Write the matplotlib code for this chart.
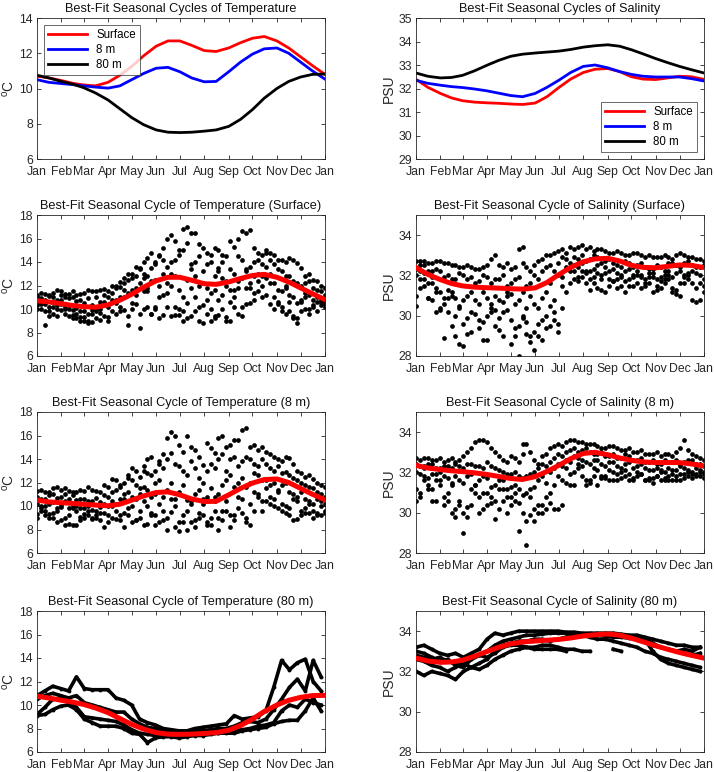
import numpy as np
import matplotlib
matplotlib.use("Agg")
import matplotlib.pyplot as plt

plt.rcParams['font.family'] = ['Liberation Sans', 'DejaVu Sans']
plt.rcParams['mathtext.fontset'] = 'custom'
plt.rcParams['mathtext.rm'] = 'Liberation Sans'

# month ticks (day of year)
MONTH_DAYS = [0, 31, 59, 90, 120, 151, 181, 212, 243, 273, 304, 334, 365]
MONTH_LABELS = ['Jan', 'Feb', 'Mar', 'Apr', 'May', 'Jun', 'Jul',
                'Aug', 'Sep', 'Oct', 'Nov', 'Dec', 'Jan']

# best-fit seasonal cycles, read semi-monthly
fit_days = [0, 15, 31, 45, 59, 74, 90, 105, 120, 135, 151, 166, 181,
            196, 212, 227, 243, 258, 273, 288, 304, 319, 334, 349, 365]
fit_t_surf = [10.7, 10.6, 10.45, 10.3, 10.2, 10.15, 10.35, 10.75, 11.25, 11.85, 12.4, 12.7, 12.7,
              12.45, 12.15, 12.1, 12.3, 12.6, 12.85, 12.95, 12.7, 12.3, 11.8, 11.3, 10.8]
fit_t_8m = [10.5, 10.35, 10.28, 10.22, 10.15, 10.08, 10.02, 10.15, 10.5, 10.85, 11.15, 11.2, 10.95,
            10.6, 10.38, 10.4, 10.95, 11.5, 11.95, 12.25, 12.3, 12.0, 11.5, 11.0, 10.53]
fit_t_80m = [10.75, 10.6, 10.4, 10.25, 10.05, 9.75, 9.35, 8.85, 8.35, 7.95, 7.65, 7.52, 7.5,
             7.52, 7.58, 7.65, 7.85, 8.25, 8.8, 9.45, 10.0, 10.4, 10.65, 10.8, 10.82]
fit_s_surf = [32.39, 32.05, 31.79, 31.6, 31.48, 31.42, 31.39, 31.37, 31.34, 31.32, 31.38, 31.65, 32.04,
              32.4, 32.68, 32.82, 32.85, 32.72, 32.5, 32.4, 32.38, 32.45, 32.52, 32.5, 32.39]
fit_s_8m = [32.35, 32.22, 32.14, 32.08, 32.04, 31.98, 31.9, 31.8, 31.7, 31.65, 31.79, 32.05, 32.35,
            32.68, 32.94, 33.0, 32.88, 32.72, 32.6, 32.52, 32.49, 32.49, 32.49, 32.42, 32.32]
fit_s_80m = [32.66, 32.52, 32.45, 32.47, 32.56, 32.75, 32.99, 33.2, 33.37, 33.46, 33.51, 33.55, 33.59,
             33.66, 33.76, 33.82, 33.86, 33.8, 33.65, 33.47, 33.27, 33.1, 32.94, 32.8, 32.66]

# observations, one trace per record, sampled every 10 days
obs_days = list(range(0, 361, 10))      # day 0..360
obs_days_mid = list(range(5, 366, 10))  # day 5..365
nan = np.nan

obs_t_surf = [
    [11.2, 11.3, 11.0, 11.5, 11.3, 11.2, 11.4, 11.5, 11.6, 11.5, 12.0, 12.6, 13.0, 13.4, 14.3, 14.0, 15.2, 16.3, 15.0,
     17.0, 16.5, 15.2, 14.0, 15.0, 14.5, 15.3, 16.6, 16.7, 14.8, 15.0, 14.6, 14.2, 14.3, 13.9, 12.8, 12.5, 12.0],
    [11.0, 10.8, 11.4, 11.2, 10.9, 10.7, 10.5, 10.3, 10.6, 11.0, 11.8, 12.2, 12.6, 13.5, 12.8, 13.8, 14.2, 13.0, 14.6,
     15.6, 14.0, 13.2, 14.6, 13.5, 12.4, 13.0, 14.2, 13.6, 14.2, 14.8, 13.8, 13.2, 12.8, 12.2, 12.2, 11.8, 11.5],
    [10.6, 10.4, 10.2, 10.4, 10.0, 10.1, 9.8, 9.9, 9.7, 10.2, 10.5, 11.0, 11.6, 12.2, 11.5, 12.5, 13.0, 12.0, 11.6,
     12.5, 11.0, 12.2, 11.4, 10.8, 12.0, 11.6, 12.6, 12.2, 13.0, 12.6, 12.2, 11.5, 11.2, 10.5, 11.0, 10.8, 10.6],
    [10.3, 9.8, 9.6, 9.9, 9.4, 9.2, 9.0, 8.9, 9.1, 9.3, 9.6, 9.9, 10.0, 9.6, 10.2, 10.0, 9.5, 9.4, 10.0,
     9.2, 9.8, 10.3, 9.0, 9.5, 9.3, 10.2, 9.4, 10.5, 11.5, 11.2, 10.0, 10.2, 9.8, 9.2, 10.0, 10.2, 10.3],
    [10.0, 8.6, 10.6, 10.8, 10.3, 9.6, 9.3, 9.6, 10.0, 9.0, 10.8, 11.6, 10.5, 8.4, 11.8, 10.2, 11.2, 14.0, 9.5,
     10.5, 12.8, 8.8, 10.0, 13.2, 9.0, 11.0, 10.2, 11.8, 12.4, 13.6, 11.0, 9.8, 10.6, 8.8, 11.4, 10.3, 10.8],
]
obs_t_surf_mid = [
    [11.4, 11.2, 11.6, 11.3, 11.5, 11.3, 11.6, 11.5, 11.7, 12.0, 12.3, 13.0, 13.6, 14.0, 14.8, 14.5, 16.0, 15.8, 16.8,
     16.5, 15.5, 14.8, 15.2, 14.6, 15.8, 16.0, 16.5, 15.2, 14.6, 14.8, 14.2, 14.0, 14.2, 13.5, 13.0, 12.4, 11.8],
    [10.9, 11.1, 10.8, 11.0, 11.0, 10.8, 10.9, 11.0, 11.2, 11.4, 11.9, 12.5, 12.8, 13.0, 13.5, 14.6, 13.6, 14.2, 15.0,
     13.8, 14.5, 13.8, 12.8, 14.0, 13.4, 14.5, 13.2, 14.0, 13.8, 14.2, 13.4, 12.8, 12.4, 12.0, 12.4, 11.6, 11.2],
    [10.4, 10.2, 10.0, 10.2, 9.9, 9.8, 9.6, 10.0, 10.3, 10.6, 11.0, 11.4, 11.8, 11.5, 12.4, 12.0, 11.4, 12.8, 11.0,
     11.8, 12.0, 10.8, 11.6, 11.2, 11.6, 12.4, 11.8, 12.8, 12.0, 13.0, 11.6, 11.8, 11.0, 10.8, 11.2, 10.6, 10.4],
    [10.0, 9.8, 9.4, 9.6, 9.2, 9.0, 9.0, 9.2, 9.4, 9.8, 10.2, 9.4, 10.4, 10.0, 9.6, 9.2, 10.2, 9.5, 9.8,
     9.4, 9.0, 9.6, 9.4, 10.0, 9.0, 9.6, 10.4, 10.8, 11.0, 10.4, 10.6, 9.6, 9.2, 9.8, 10.0, 9.8, 10.2],
    [10.6, 9.4, 10.3, 10.0, 9.5, 9.3, 8.8, 9.8, 10.6, 10.8, 9.8, 8.6, 11.2, 12.6, 9.6, 11.0, 12.2, 10.2, 9.0,
     13.4, 10.2, 11.8, 9.2, 12.6, 10.6, 11.8, 13.4, 11.4, 12.8, 12.2, 10.4, 12.0, 9.4, 10.6, 9.6, 11.0, 10.6],
]
obs_t_8m = [
    [11.3, 11.2, 11.5, 11.4, 11.3, 11.2, 11.3, 11.4, 11.2, 11.6, 12.2, 12.0, 13.2, 12.5, 14.0, 13.0, 14.4, 16.3, 15.2,
     16.0, 14.8, 13.5, 14.9, 15.8, 15.0, 15.6, 16.5, 15.0, 14.8, 14.6, 14.2, 13.8, 14.1, 13.0, 12.5, 12.3, 11.8],
    [10.8, 10.6, 11.0, 10.8, 10.6, 10.5, 10.6, 10.4, 10.3, 10.8, 11.4, 11.0, 12.2, 11.5, 12.8, 12.0, 13.2, 14.5, 13.4,
     12.6, 13.2, 12.0, 13.6, 14.0, 13.0, 14.2, 13.8, 14.0, 13.4, 13.6, 13.0, 12.8, 12.6, 12.2, 11.8, 11.5, 11.0],
    [10.2, 10.0, 10.3, 10.1, 9.8, 10.0, 9.8, 9.7, 9.9, 10.0, 10.2, 10.6, 10.8, 11.0, 11.4, 11.0, 10.8, 12.0, 11.2,
     10.5, 11.0, 10.2, 11.5, 11.0, 12.2, 11.6, 12.4, 12.0, 12.6, 12.2, 12.0, 11.8, 11.2, 10.8, 10.6, 10.2, 10.0],
    [9.3, 9.2, 9.0, 8.8, 8.5, 8.4, 9.0, 8.9, 8.8, 9.2, 8.9, 9.4, 8.6, 9.0, 8.5, 9.2, 8.8, 9.5, 8.6,
     8.0, 8.8, 9.2, 8.4, 9.0, 9.6, 8.8, 9.4, 10.2, 10.8, 10.4, 10.0, 9.6, 9.2, 8.9, 9.4, 9.6, 9.2],
    [9.0, 9.6, 9.4, 9.9, 9.2, 9.6, 9.3, 9.0, 9.4, 8.6, 9.6, 8.2, 10.0, 9.6, 10.0, 8.4, 9.6, 10.6, 7.9,
     9.6, 8.2, 10.6, 9.0, 8.0, 10.4, 9.2, 10.6, 8.4, 11.0, 11.5, 10.6, 10.2, 9.8, 10.4, 9.8, 9.0, 10.4],
]
obs_t_8m_mid = [
    [11.4, 11.2, 11.6, 11.5, 11.2, 11.4, 11.6, 11.3, 11.8, 12.3, 11.8, 12.6, 13.0, 13.4, 14.2, 13.6, 15.8, 16.0, 14.6,
     15.0, 14.2, 15.4, 14.5, 16.0, 15.2, 15.6, 16.6, 15.2, 15.0, 14.4, 14.0, 14.2, 13.6, 12.8, 12.6, 12.0, 11.6],
    [10.6, 10.9, 10.7, 11.0, 10.9, 10.6, 10.4, 10.7, 10.9, 11.2, 11.6, 12.4, 11.8, 13.0, 12.6, 13.8, 14.0, 13.6, 13.0,
     13.8, 12.4, 13.0, 13.2, 14.4, 14.0, 13.4, 14.2, 13.6, 14.0, 13.2, 13.4, 12.9, 12.4, 12.0, 11.6, 11.2, 10.8],
    [10.0, 10.2, 9.8, 10.4, 10.0, 9.8, 10.0, 9.6, 10.2, 10.4, 10.6, 11.2, 10.6, 11.6, 10.8, 12.2, 11.4, 10.6, 11.8,
     10.2, 11.4, 10.8, 10.4, 11.8, 12.6, 12.0, 11.6, 12.8, 12.2, 11.8, 11.4, 12.0, 11.0, 11.2, 10.4, 10.6, 10.2],
    [9.6, 9.0, 8.6, 8.4, 8.4, 8.8, 9.2, 9.0, 9.4, 9.0, 8.8, 9.2, 8.8, 8.4, 9.4, 8.6, 9.0, 8.2, 9.2,
     8.6, 9.4, 8.6, 9.6, 8.8, 9.2, 9.8, 8.6, 9.6, 10.4, 10.2, 9.8, 9.4, 8.8, 9.6, 9.4, 9.2, 9.4],
    [9.8, 9.3, 9.6, 9.0, 9.8, 9.1, 9.6, 9.2, 8.2, 10.0, 9.2, 9.8, 8.8, 10.4, 9.2, 10.2, 8.0, 10.0, 8.6,
     10.4, 9.0, 8.4, 10.8, 9.6, 8.2, 10.8, 9.0, 11.2, 9.6, 10.8, 11.2, 10.0, 10.6, 9.2, 10.2, 9.4, 9.6],
]
obs_t_80m = [
    [10.8, 11.2, 11.6, 11.4, 11.2, 12.4, 11.4, 11.3, 11.3, 11.3, 10.6, 10.4, 10.0, 8.8, 8.5, 8.3, 8.0, 7.9, 7.8,
     7.8, 8.0, 8.1, 8.2, 8.3, 8.4, 9.1, 8.8, 8.9, 9.0, 9.5, 11.5, 13.8, 13.0, 13.6, 13.9, 12.0, 11.2],
    [10.5, 10.8, 11.0, 10.8, 10.6, 10.8, 10.2, 10.0, 9.8, 9.6, 9.4, 9.4, 8.8, 8.4, 8.1, 8.0, 7.8, 7.6, 7.6,
     7.7, 7.8, 7.8, 7.9, 8.0, 8.0, 8.2, 8.5, 8.6, 8.5, 8.8, 9.6, 10.5, 11.5, 12.2, 11.2, 13.8, 12.4],
    [9.2, 9.8, 10.5, 10.6, 10.2, 9.8, 9.0, 8.9, 8.8, 8.7, 8.6, 8.3, 7.9, 7.6, 7.5, 7.4, 7.4, 7.4, 7.5,
     7.5, 7.5, 7.6, 7.6, 7.6, 7.7, 7.8, 7.9, 8.0, 8.2, 8.3, 8.5, 9.5, 10.0, 9.8, 10.5, 10.2, 10.0],
    [9.1, 9.2, 9.6, 9.9, 10.0, 9.6, 8.8, 8.5, 8.2, 8.2, 8.2, 8.0, 7.6, 7.5, 6.8, 7.2, 7.3, 7.3, 7.2,
     7.3, 7.4, 7.4, 7.5, 7.6, 7.6, 7.6, 7.8, 7.9, 8.0, 8.1, 8.4, 8.6, 8.7, 8.7, 9.5, 10.6, 9.5],
]
obs_s_surf = [
    [32.7, 32.7, 32.6, 32.7, 32.6, 32.5, 32.4, 32.4, 32.3, 32.5, 33.0, 32.4, 32.3, 33.3, 32.4, 32.5, 32.8, 33.0, 33.2,
     33.1, 33.3, 33.5, 33.4, 33.3, 33.2, 33.1, 33.1, 33.0, 33.1, 32.9, 32.9, 32.9, 32.9, 33.0, 33.0, 32.9, 32.8],
    [32.3, 32.5, 32.2, 32.2, 32.0, 31.8, 32.0, 31.9, 31.7, 31.9, 31.8, 32.0, 31.6, 31.9, 31.5, 32.0, 32.2, 32.5, 32.6,
     32.8, 32.9, 33.0, 32.8, 32.9, 32.7, 32.6, 32.4, 32.6, 32.5, 32.4, 32.3, 32.4, 32.6, 32.5, 32.6, 32.5, 32.4],
    [32.0, 31.8, 31.6, 31.2, 31.3, 30.9, 30.8, 31.2, 30.6, 30.9, 31.0, 30.7, 31.1, 30.8, 30.4, 30.6, 30.9, 31.6, 32.0,
     32.4, 32.5, 32.6, 32.2, 32.5, 32.1, 32.3, 31.9, 32.3, 32.0, 31.8, 32.1, 31.9, 32.2, 32.1, 31.9, 32.2, 32.0],
    [31.0, 31.5, 30.8, 30.3, 30.2, 30.0, 29.6, 30.2, 29.8, 30.0, 29.5, 30.2, 29.8, 29.5, 29.7, 29.2, 29.8, 30.5, 29.6,
     31.2, 31.8, 32.2, 31.8, 31.4, 32.4, 31.7, 31.5, 31.8, 31.6, 31.5, 31.9, 31.7, 31.8, 31.3, 32.0, 31.6, 31.6],
    [30.5, 32.1, 31.9, 30.4, 30.9, 29.0, 28.5, 29.2, 29.4, 28.8, 30.3, 29.0, 28.6, 28.0, 29.1, 28.3, 28.8, 29.5, 29.2,
     32.3, 32.2, 31.9, 31.3, 32.1, 31.2, 31.7, 32.0, 31.5, 32.2, 31.6, 31.2, 31.4, 32.0, 31.1, 31.6, 30.8, 30.8],
]
obs_s_surf_mid = [
    [32.7, 32.6, 32.7, 32.6, 32.5, 32.4, 32.5, 32.3, 32.4, 32.8, 32.5, 32.6, 32.4, 32.6, 32.2, 32.7, 33.0, 33.1, 33.3,
     33.4, 33.4, 33.3, 33.2, 33.3, 33.1, 33.2, 33.0, 33.1, 33.0, 33.0, 32.9, 33.0, 32.8, 33.1, 32.9, 32.8, 32.7],
    [32.5, 32.2, 32.3, 31.9, 31.8, 32.1, 31.8, 31.6, 32.0, 31.6, 31.8, 31.5, 31.8, 31.2, 31.6, 31.8, 32.4, 32.2, 32.9,
     32.6, 32.8, 32.7, 33.0, 32.6, 32.8, 32.5, 32.7, 32.4, 32.6, 32.3, 32.5, 32.2, 32.6, 32.4, 32.7, 32.4, 32.5],
    [31.8, 31.6, 31.2, 30.9, 31.0, 30.5, 31.0, 30.8, 31.2, 30.4, 30.8, 31.0, 30.6, 30.0, 31.0, 30.4, 31.2, 30.8, 31.9,
     32.2, 32.4, 32.1, 32.3, 32.0, 32.2, 31.8, 32.2, 31.9, 32.0, 32.1, 31.8, 32.0, 31.9, 32.2, 32.0, 32.1, 31.8],
    [31.4, 30.9, 30.2, 30.6, 29.5, 30.4, 29.9, 30.1, 29.7, 30.2, 29.9, 30.3, 29.4, 29.9, 29.0, 29.6, 30.0, 29.8, 30.4,
     31.6, 31.9, 31.6, 31.9, 31.3, 31.8, 31.4, 31.7, 31.5, 31.9, 31.6, 31.3, 31.6, 31.2, 31.6, 31.8, 31.4, 31.5],
    [32.2, 30.9, 31.4, 28.9, 31.2, 28.6, 29.1, 31.5, 28.8, 30.6, 29.3, 31.2, 29.0, 33.4, 28.7, 29.0, 29.4, 30.2, 31.5,
     32.4, 31.7, 32.2, 31.6, 31.8, 31.5, 32.1, 31.2, 32.0, 31.4, 31.9, 31.5, 31.8, 31.4, 31.0, 32.1, 30.7, 31.2],
]
obs_s_8m = [
    [32.7, 32.7, 32.6, 32.7, 32.6, 32.5, 32.8, 33.2, 33.6, 33.5, 33.0, 32.6, 32.8, 32.5, 33.4, 32.6, 32.8, 33.2, 33.4,
     33.5, 33.6, 33.5, 33.4, 33.3, 33.2, 33.3, 33.1, 33.2, 33.0, 32.9, 32.9, 32.8, 32.9, 33.0, 33.6, 32.9, 32.7],
    [32.4, 32.3, 32.4, 32.2, 32.3, 32.4, 32.2, 32.4, 32.3, 32.5, 32.2, 32.0, 31.9, 31.8, 31.8, 32.0, 32.4, 32.5, 32.9,
     33.0, 33.2, 33.1, 33.0, 32.9, 32.8, 32.9, 32.7, 32.8, 32.6, 32.5, 32.6, 32.4, 32.5, 32.6, 32.5, 32.6, 32.4],
    [32.0, 31.8, 31.9, 31.6, 31.7, 31.8, 31.5, 31.9, 31.6, 31.7, 31.4, 31.2, 31.3, 31.2, 31.0, 31.3, 31.8, 32.0, 32.4,
     32.6, 32.8, 32.6, 32.4, 32.6, 32.3, 32.5, 32.2, 32.5, 32.3, 32.2, 32.1, 32.0, 32.2, 32.1, 32.2, 32.0, 32.0],
    [30.6, 31.6, 31.2, 31.4, 30.6, 30.2, 30.0, 30.4, 30.8, 30.4, 29.7, 30.6, 30.4, 30.5, 29.6, 30.2, 30.4, 31.0, 31.8,
     32.2, 32.0, 31.8, 31.6, 31.4, 31.8, 32.0, 31.7, 31.9, 31.8, 31.6, 31.7, 31.6, 31.8, 31.6, 31.9, 31.7, 31.8],
    [31.2, 32.2, 30.6, 32.0, 31.0, 29.8, 29.0, 31.2, 30.0, 31.0, 30.6, 31.6, 30.8, 29.1, 28.4, 29.6, 30.0, 30.5, 30.2,
     31.5, 31.4, 32.3, 31.5, 32.1, 31.7, 31.6, 32.0, 31.6, 32.0, 31.6, 31.5, 32.1, 31.6, 31.8, 31.7, 31.9, 32.1],
]
obs_s_8m_mid = [
    [32.6, 32.7, 32.6, 32.5, 32.7, 32.6, 33.0, 33.5, 33.6, 33.2, 32.8, 32.5, 32.7, 32.9, 33.0, 32.4, 32.9, 33.3, 33.3,
     33.6, 33.5, 33.4, 33.4, 33.2, 33.3, 33.2, 33.1, 33.0, 33.1, 32.9, 33.0, 32.9, 32.8, 33.2, 33.1, 32.8, 32.6],
    [32.3, 32.4, 32.2, 32.3, 32.2, 32.3, 32.4, 32.3, 32.2, 32.3, 32.1, 31.9, 32.0, 31.7, 31.9, 32.2, 32.3, 32.7, 32.8,
     33.1, 33.0, 33.2, 32.9, 33.0, 32.8, 32.7, 32.9, 32.6, 32.7, 32.5, 32.4, 32.6, 32.5, 32.4, 32.6, 32.4, 32.3],
    [31.9, 31.7, 31.6, 31.8, 31.5, 31.6, 31.8, 31.4, 31.8, 31.3, 31.6, 31.2, 31.4, 30.9, 31.2, 31.6, 31.5, 32.2, 32.3,
     32.5, 32.7, 32.5, 32.6, 32.4, 32.5, 32.3, 32.4, 32.2, 32.4, 32.1, 32.2, 32.0, 32.1, 32.3, 32.0, 32.2, 31.9],
    [31.0, 31.4, 30.6, 30.4, 30.0, 30.6, 30.3, 31.0, 30.2, 30.8, 30.2, 30.0, 30.6, 30.0, 30.8, 30.4, 30.2, 31.4, 31.6,
     31.9, 32.2, 31.6, 31.8, 31.7, 31.6, 31.9, 31.8, 31.6, 31.9, 31.7, 31.8, 31.7, 31.6, 31.9, 31.8, 31.9, 31.7],
    [30.8, 31.2, 31.9, 30.8, 31.4, 30.4, 29.8, 31.4, 31.0, 30.5, 31.2, 30.8, 31.0, 33.4, 29.9, 30.0, 30.8, 30.2, 30.4,
     31.4, 32.4, 31.4, 32.2, 31.8, 32.1, 31.6, 32.1, 31.7, 31.9, 31.6, 31.8, 31.6, 31.9, 31.6, 32.1, 31.8, 32.0],
]
obs_s_80m = [
    [33.2, 33.3, 33.1, 32.9, 32.8, 32.9, 32.7, 32.9, 33.1, 33.6, 33.9, 33.8, 33.9, 34.0, 34.0, 34.0, 34.0, 34.0, 34.0,
     33.95, 33.95, 33.9, 33.9, 33.9, 33.9, 33.9, 33.85, 33.8, 33.8, 33.7, 33.6, 33.5, 33.4, 33.3, 33.3, 33.2, 33.2],
    [32.8, 32.7, 32.6, 32.7, 32.5, 32.4, 32.5, 32.6, 32.8, 33.0, 33.3, 33.5, 33.6, 33.7, 33.8, 33.8, 33.85, 33.9, 33.9,
     33.9, 33.85, 33.8, 33.8, 33.8, 33.75, 33.7, 33.7, 33.65, 33.6, 33.5, 33.3, 33.2, 33.1, 33.0, 32.9, 32.8, 32.9],
    [32.6, 32.5, 32.3, 32.2, 32.0, 32.2, 32.4, 32.2, 32.4, 32.6, 33.0, 33.3, 33.4, 33.5, 33.5, 33.6, 33.6, 33.5, 33.6,
     33.7, 33.8, 33.8, 33.7, 33.6, 33.6, 33.5, 33.4, 33.3, 33.2, 33.0, 32.9, 32.7, 32.6, 32.5, 32.4, 32.3, 32.2],
    [32.0, 31.8, 32.0, 31.9, 31.8, 31.6, 32.0, 32.2, 32.1, 32.3, 32.6, 32.8, 33.0, 33.1, 33.2, 33.2, 33.3, 33.3, 33.2,
     33.1, 33.1, 33.0, 33.0, nan, nan, 33.1, 33.0, nan, nan, 33.6, 33.0, 32.6, 32.4, 32.3, 32.2, 32.1, 32.0],
    [33.0, 32.9, 32.7, 32.5, 32.6, 32.3, 32.2, 32.6, 32.8, 32.7, 32.9, 33.2, 33.3, 33.3, 33.2, 33.1, 33.1, 33.1, 33.1,
     33.0, nan, nan, nan, nan, nan, nan, nan, nan, 33.7, 33.6, 33.4, 33.2, 33.1, 33.0, 33.1, 33.0, 33.2],
]

DEG_C = r'$^{\rm o}$C'
AX_COLOR = '#262626'

fig = plt.figure(figsize=(7.14, 7.72), dpi=100)

col_x = [37 / 714, 416 / 714]
ax_w = 288 / 714
row_bottom_px = [159, 356, 553, 752]
ax_h = 141 / 772


def make_ax(row, col):
    ax = fig.add_axes([col_x[col], 1 - row_bottom_px[row] / 772, ax_w, ax_h])
    ax.set_xlim(0, 365)
    ax.set_xticks(MONTH_DAYS)
    ax.set_xticklabels(MONTH_LABELS)
    ax.tick_params(direction='in', length=3, width=0.6, top=True, right=True,
                   labelsize=8.8, colors=AX_COLOR)
    ax.tick_params(axis='x', pad=5)
    ax.tick_params(axis='y', pad=3)
    for s in ax.spines.values():
        s.set_color(AX_COLOR)
        s.set_linewidth(0.6)
    return ax


def style_labels(ax, title, ylabel):
    ax.set_title(title, fontsize=9.2, color='#111111', pad=4)
    ax.set_ylabel(ylabel, fontsize=10, color=AX_COLOR, labelpad=2)


def draw_scatter(ax, days, traces):
    for tr in traces:
        ax.plot(days, tr, linestyle='none', color='k', marker='o', ms=3.4, mew=0, zorder=2)


def draw_tracks(ax, days, traces):
    for tr in traces:
        ax.plot(days, tr, color='k', lw=2.6, marker='o', ms=2.8, mew=0, zorder=2)


def add_legend(ax, loc):
    leg = ax.legend(loc=loc, fontsize=8.3, handlelength=3.4, frameon=True, fancybox=False,
                    edgecolor=AX_COLOR, borderaxespad=0.6, labelspacing=0.25, borderpad=0.35)
    leg.get_frame().set_linewidth(0.6)


# top row: all fitted cycles together
ax = make_ax(0, 0)
ax.plot(fit_days, fit_t_surf, color='#ff0000', lw=2, label='Surface')
ax.plot(fit_days, fit_t_8m, color='#0000ff', lw=2, label='8 m')
ax.plot(fit_days, fit_t_80m, color='k', lw=2, label='80 m')
ax.set_ylim(6, 14)
ax.set_yticks([6, 8, 10, 12, 14])
style_labels(ax, 'Best-Fit Seasonal Cycles of Temperature', DEG_C)
add_legend(ax, 'upper left')

ax = make_ax(0, 1)
ax.plot(fit_days, fit_s_surf, color='#ff0000', lw=2, label='Surface')
ax.plot(fit_days, fit_s_8m, color='#0000ff', lw=2, label='8 m')
ax.plot(fit_days, fit_s_80m, color='k', lw=2, label='80 m')
ax.set_ylim(29, 35)
ax.set_yticks([29, 30, 31, 32, 33, 34, 35])
style_labels(ax, 'Best-Fit Seasonal Cycles of Salinity', 'PSU')
add_legend(ax, 'lower right')

# observations with the fitted cycle on top
temp_rows = [('Surface', fit_t_surf), ('8 m', fit_t_8m), ('80 m', fit_t_80m)]
sal_rows = [('Surface', fit_s_surf), ('8 m', fit_s_8m), ('80 m', fit_s_80m)]

for i, (depth, fit) in enumerate(temp_rows):
    ax = make_ax(i + 1, 0)
    if depth == 'Surface':
        draw_scatter(ax, obs_days, obs_t_surf)
        draw_scatter(ax, obs_days_mid, obs_t_surf_mid)
    elif depth == '8 m':
        draw_scatter(ax, obs_days, obs_t_8m)
        draw_scatter(ax, obs_days_mid, obs_t_8m_mid)
    else:
        draw_tracks(ax, obs_days, obs_t_80m)
    ax.plot(fit_days, fit, color='#ff0000', lw=3.6, zorder=3)
    ax.set_ylim(6, 18)
    ax.set_yticks([6, 8, 10, 12, 14, 16, 18])
    style_labels(ax, f'Best-Fit Seasonal Cycle of Temperature ({depth})', DEG_C)

for i, (depth, fit) in enumerate(sal_rows):
    ax = make_ax(i + 1, 1)
    if depth == 'Surface':
        draw_scatter(ax, obs_days, obs_s_surf)
        draw_scatter(ax, obs_days_mid, obs_s_surf_mid)
    elif depth == '8 m':
        draw_scatter(ax, obs_days, obs_s_8m)
        draw_scatter(ax, obs_days_mid, obs_s_8m_mid)
    else:
        draw_tracks(ax, obs_days, obs_s_80m)
    ax.plot(fit_days, fit, color='#ff0000', lw=3.6, zorder=3)
    ax.set_ylim(28, 35)
    ax.set_yticks([28, 30, 32, 34])
    style_labels(ax, f'Best-Fit Seasonal Cycle of Salinity ({depth})', 'PSU')

fig.savefig('out.png', dpi=100)
